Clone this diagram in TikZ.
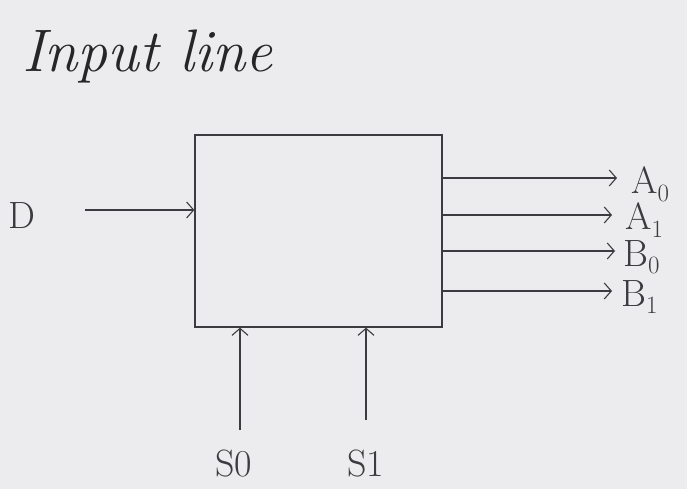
\documentclass[tikz,border=0pt]{standalone}
\usetikzlibrary{arrows.meta}
\definecolor{paper}{RGB}{236,236,238}
\definecolor{ink}{RGB}{60,60,64}
\begin{document}
\begin{tikzpicture}[x=1pt,y=1pt,
  wire/.style={draw=ink,line width=1.1pt,-{Straight Barb[length=7pt,width=16pt,line width=1.1pt]}},
  lbl/.style={text=ink,font=\fontsize{38}{40}\selectfont,inner sep=1pt},
  blk/.style={draw=ink,line width=1.3pt,minimum width=247pt,minimum height=192pt,inner sep=0pt}]
\fill[paper] (0,0) rectangle (687,-489);
\useasboundingbox (0,0) rectangle (687,-489);
\node[text=black!85,font=\fontsize{60}{64}\selectfont\itshape,anchor=base west,inner sep=0pt] (title) at (22,-72) {Input line};
\node[blk] (dmx) at (318.5,-231) {};
\node[lbl] (d) at (22,-216) {D};
\coordinate (dstart) at (85,-210);
\draw[wire] (dstart) -- (dstart -| dmx.west);
\node[lbl,anchor=west] (a0) at (630,-184) {A$_0$};
\node[lbl,anchor=west] (a1) at (624,-220) {A$_1$};
\node[lbl,anchor=west] (b0) at (622,-257) {B$_0$};
\node[lbl,anchor=west] (b1) at (620,-297) {B$_1$};
\coordinate (o0) at (617,-178);
\coordinate (o1) at (612,-215);
\coordinate (o2) at (615,-251);
\coordinate (o3) at (612,-291);
\draw[wire] (o0 -| dmx.east) -- (o0);
\draw[wire] (o1 -| dmx.east) -- (o1);
\draw[wire] (o2 -| dmx.east) -- (o2);
\draw[wire] (o3 -| dmx.east) -- (o3);
\node[lbl] (s0) at (234,-464) {S0};
\node[lbl] (s1) at (366,-464) {S1};
\coordinate (s0b) at (240,-430);
\coordinate (s1b) at (366,-420);
\draw[wire] (s0b) -- (s0b |- dmx.south);
\draw[wire] (s1b) -- (s1b |- dmx.south);
\end{tikzpicture}
\end{document}
